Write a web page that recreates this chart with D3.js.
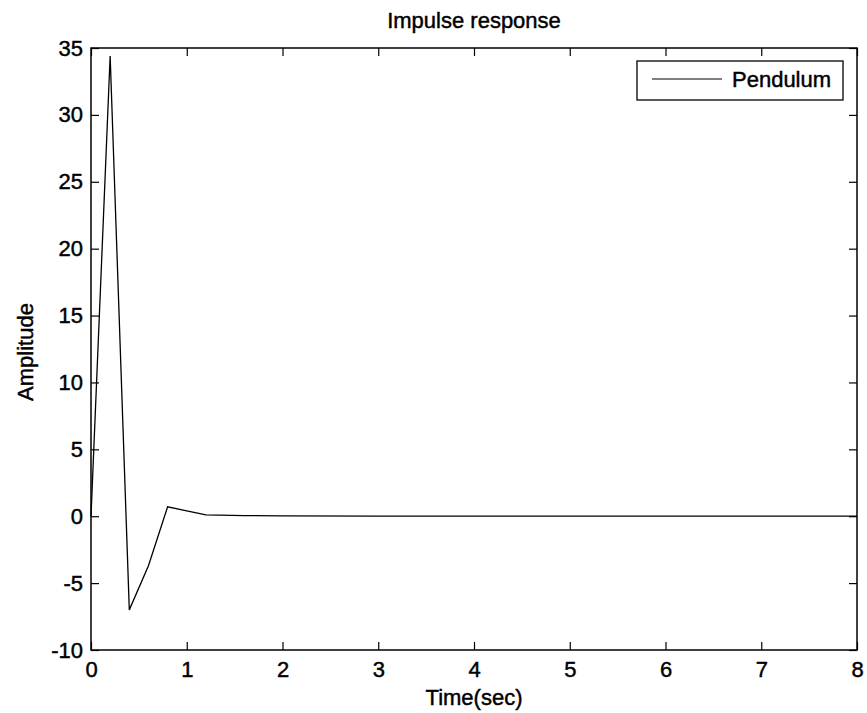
<!DOCTYPE html>
<html>
<head>
<meta charset="utf-8">
<script src="https://cdn.jsdelivr.net/npm/d3@7/dist/d3.min.js"></script>
<style>
  html, body { margin: 0; padding: 0; background: #fff; }
  svg { display: block; }
  text { font-family: "Liberation Sans", Arial, Helvetica, sans-serif; fill: #000; stroke: #000; stroke-width: 0.45px; }
</style>
</head>
<body>
<svg id="chart" width="867" height="713"></svg>
<script>
// ---- data ----
const times      = [0, 0.2, 0.4, 0.6, 0.8, 1.0, 1.2, 1.6, 2, 3, 4, 5, 6, 7, 8];
const amplitude  = [0, 34.4, -7.0, -3.7, 0.7, 0.4, 0.1, 0.05, 0.02, 0.01, 0, 0, 0, 0, 0];
const xTicks     = [0, 1, 2, 3, 4, 5, 6, 7, 8];
const yTicks     = [-10, -5, 0, 5, 10, 15, 20, 25, 30, 35];
const seriesName = "Pendulum";
const titleText  = "Impulse response";
const xLabel     = "Time(sec)";
const yLabel     = "Amplitude";

// ---- layout ----
const svg = d3.select("#chart");
const L = 91, R = 857, T = 48, B = 650;
const xScale = d3.scaleLinear().domain([0, 8]).range([L, R]);
const yScale = d3.scaleLinear().domain([-10, 35]).range([B, T]);
const tickLen = 8;
const fs = 22;
const fmt = d => String(d);   // plain hyphen minus as in the reference

// data line
const line = d3.line().x((d, i) => xScale(times[i])).y(d => yScale(d));
svg.append("path")
  .datum(amplitude)
  .attr("d", line)
  .attr("fill", "none")
  .attr("stroke", "#000")
  .attr("stroke-width", 1.3);

// axes (MATLAB style: ticks inside, on all four sides)
const axB = d3.axisBottom(xScale).tickValues(xTicks).tickSizeInner(-tickLen).tickSizeOuter(0).tickPadding(11).tickFormat(fmt);
const axT = d3.axisTop(xScale).tickValues(xTicks).tickSizeInner(-tickLen).tickSizeOuter(0).tickFormat("");
const axL = d3.axisLeft(yScale).tickValues(yTicks).tickSizeInner(-tickLen).tickSizeOuter(0).tickPadding(8).tickFormat(fmt);
const axR = d3.axisRight(yScale).tickValues(yTicks).tickSizeInner(-tickLen).tickSizeOuter(0).tickFormat("");

function style(g) {
  g.select(".domain").remove();
  g.selectAll(".tick line").attr("stroke", "#000").attr("stroke-width", 1.2);
  g.selectAll(".tick text").attr("font-size", fs)
    .style("font-family", '"Liberation Sans", Arial, sans-serif')
    .attr("fill", "#000");
}
svg.append("g").attr("transform", `translate(0,${B})`).call(axB).call(style);
svg.append("g").attr("transform", `translate(0,${T})`).call(axT).call(style);
svg.append("g").attr("transform", `translate(${L},0)`).call(axL).call(style);
svg.append("g").attr("transform", `translate(${R},0)`).call(axR).call(style);

// frame
svg.append("rect")
  .attr("x", L).attr("y", T).attr("width", R - L).attr("height", B - T)
  .attr("fill", "none").attr("stroke", "#000").attr("stroke-width", 1.5);

// title and axis labels
svg.append("text").attr("x", (L + R) / 2).attr("y", 28).attr("text-anchor", "middle")
  .attr("font-size", 22).text(titleText);
svg.append("text").attr("x", (L + R) / 2).attr("y", 705).attr("text-anchor", "middle")
  .attr("font-size", 22).text(xLabel);
svg.append("text").attr("transform", `translate(33,${(T + B) / 2 + 3}) rotate(-90)`)
  .attr("text-anchor", "middle").attr("font-size", 22).text(yLabel);

// legend
const lg = svg.append("g");
lg.append("rect").attr("x", 637).attr("y", 61).attr("width", 206).attr("height", 39)
  .attr("fill", "#fff").attr("stroke", "#000").attr("stroke-width", 1.3);
lg.append("line").attr("x1", 652).attr("x2", 722).attr("y1", 79).attr("y2", 79)
  .attr("stroke", "#000").attr("stroke-width", 1);
lg.append("text").attr("x", 732).attr("y", 87).attr("font-size", 22).text(seriesName);
</script>
</body>
</html>
